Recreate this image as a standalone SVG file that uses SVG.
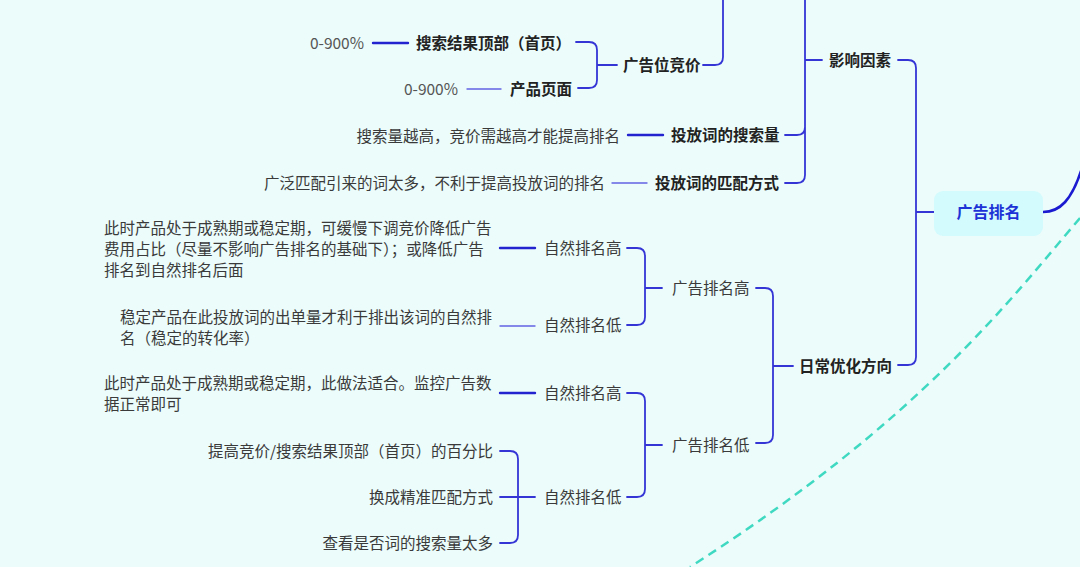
<svg xmlns="http://www.w3.org/2000/svg" width="1080" height="567" viewBox="0 0 1080 567">
<style>
text{font-family:"Noto Sans CJK SC","Noto Sans",sans-serif;font-size:15.5px;fill:#3a3a3a}
.b{font-weight:bold;fill:#222}
.g{fill:#555}
.e{text-anchor:end}
.root{font-weight:bold;fill:#1d33d6;font-size:16px;text-anchor:middle}
.c{fill:none;stroke:#3535d6;stroke-width:1.8;stroke-linecap:round;stroke-linejoin:round}
.k{fill:none;stroke:#2323cf;stroke-width:2.4;stroke-linecap:round}
.t{fill:none;stroke:#6262e4;stroke-width:1.4;stroke-linecap:round}
</style>
<rect width="1080" height="567" fill="#ebfcfb"/>
<path d="M1080,218 C1010,300 920,420 690,567" fill="none" stroke="#3fd9c2" stroke-width="2.5" stroke-dasharray="9 6"/>
<g id="connectors">
<path class="k" d="M373,43 L408,43"/>
<path class="t" d="M467,89 L501,89"/>
<path class="c" d="M576,42 L589,42 Q597,42 597,50 L597,80 Q597,88 589,88 L578,88 M597,65 L617,65"/>
<path class="c" d="M703,65 L715,65 Q723,65 723,57 L723,0"/>
<path class="k" d="M628,135 L663,135"/>
<path class="t" d="M612,183 L647,183"/>
<path class="c" d="M805,0 L805,175 Q805,183 797,183 L785,183 M785,135 L797,135 Q805,135 805,127 M805,60 L822,60"/>
<path class="c" d="M898,60 L908,60 Q916,60 916,68 L916,357 Q916,365 908,365 L898,365 M916,212 L934,212"/>
<path d="M1043,212 C1060,212 1072,200 1082,168" fill="none" stroke="#1a1ad0" stroke-width="2.6"/>
<path class="c" d="M756,288 L765,288 Q773,288 773,296 L773,435 Q773,443 765,443 L756,443 M773,366 L793,366"/>
<path class="c" d="M627,248 L637,248 Q645,248 645,256 L645,317 Q645,325 637,325 L627,325 M645,288 L662,288"/>
<path class="k" d="M500,248 L535,248"/>
<path class="t" d="M500,326 L535,326"/>
<path class="c" d="M627,393 L637,393 Q645,393 645,401 L645,489 Q645,497 637,497 L627,497 M645,445 L662,445"/>
<path class="k" d="M500,393 L535,393"/>
<path class="c" d="M500,451 L510,451 Q518,451 518,459 L518,535 Q518,543 510,543 L500,543 M500,497 L535,497"/>
</g>
<g id="root"><rect x="934" y="191" width="109" height="45" rx="9" fill="#d3fbfd"/><text class="root" x="988.5" y="218">广告排名</text></g>
<g id="n-factors"><text class="b" x="829" y="65.5">影响因素</text></g>
<g id="n-bid"><text class="b" x="623" y="70.5">广告位竞价</text></g>
<g id="n-top"><text class="b" x="416" y="48.5">搜索结果顶部（首页）</text></g>
<g id="n-top-v"><text class="g e" x="364" y="48.5">0-900%</text></g>
<g id="n-page"><text class="b" x="510" y="94.5">产品页面</text></g>
<g id="n-page-v"><text class="g e" x="458" y="94.5">0-900%</text></g>
<g id="n-vol"><text class="b" x="671" y="140.5">投放词的搜索量</text></g>
<g id="n-vol-d"><text class="e" x="620" y="141.5">搜索量越高，竞价需越高才能提高排名</text></g>
<g id="n-match"><text class="b" x="655" y="188.5">投放词的匹配方式</text></g>
<g id="n-match-d"><text class="e" x="605" y="188.5">广泛匹配引来的词太多，不利于提高投放词的排名</text></g>
<g id="n-daily"><text class="b" x="799" y="371.5">日常优化方向</text></g>
<g id="n-high"><text x="672" y="293.5">广告排名高</text></g>
<g id="n-high-nh"><text x="544" y="253.5">自然排名高</text></g>
<g id="n-high-nh-d"><text x="104" y="233.5">此时产品处于成熟期或稳定期，可缓慢下调竞价降低广告</text><text x="104" y="254.5">费用占比（尽量不影响广告排名的基础下）；或降低广告</text><text x="104" y="275.5">排名到自然排名后面</text></g>
<g id="n-high-nl"><text x="544" y="330.5">自然排名低</text></g>
<g id="n-high-nl-d"><text x="120" y="322.5">稳定产品在此投放词的出单量才利于排出该词的自然排</text><text x="120" y="343.5">名（稳定的转化率）</text></g>
<g id="n-low"><text x="672" y="450.5">广告排名低</text></g>
<g id="n-low-nh"><text x="544" y="398.5">自然排名高</text></g>
<g id="n-low-nh-d"><text x="104" y="388.5">此时产品处于成熟期或稳定期，此做法适合。监控广告数</text><text x="104" y="409.5">据正常即可</text></g>
<g id="n-low-nl"><text x="544" y="502.5">自然排名低</text></g>
<g id="n-low-nl-a"><text class="e" x="493" y="456.5">提高竞价/搜索结果顶部（首页）的百分比</text></g>
<g id="n-low-nl-b"><text class="e" x="493" y="502.5">换成精准匹配方式</text></g>
<g id="n-low-nl-c"><text class="e" x="493" y="548.5">查看是否词的搜索量太多</text></g>
</svg>
